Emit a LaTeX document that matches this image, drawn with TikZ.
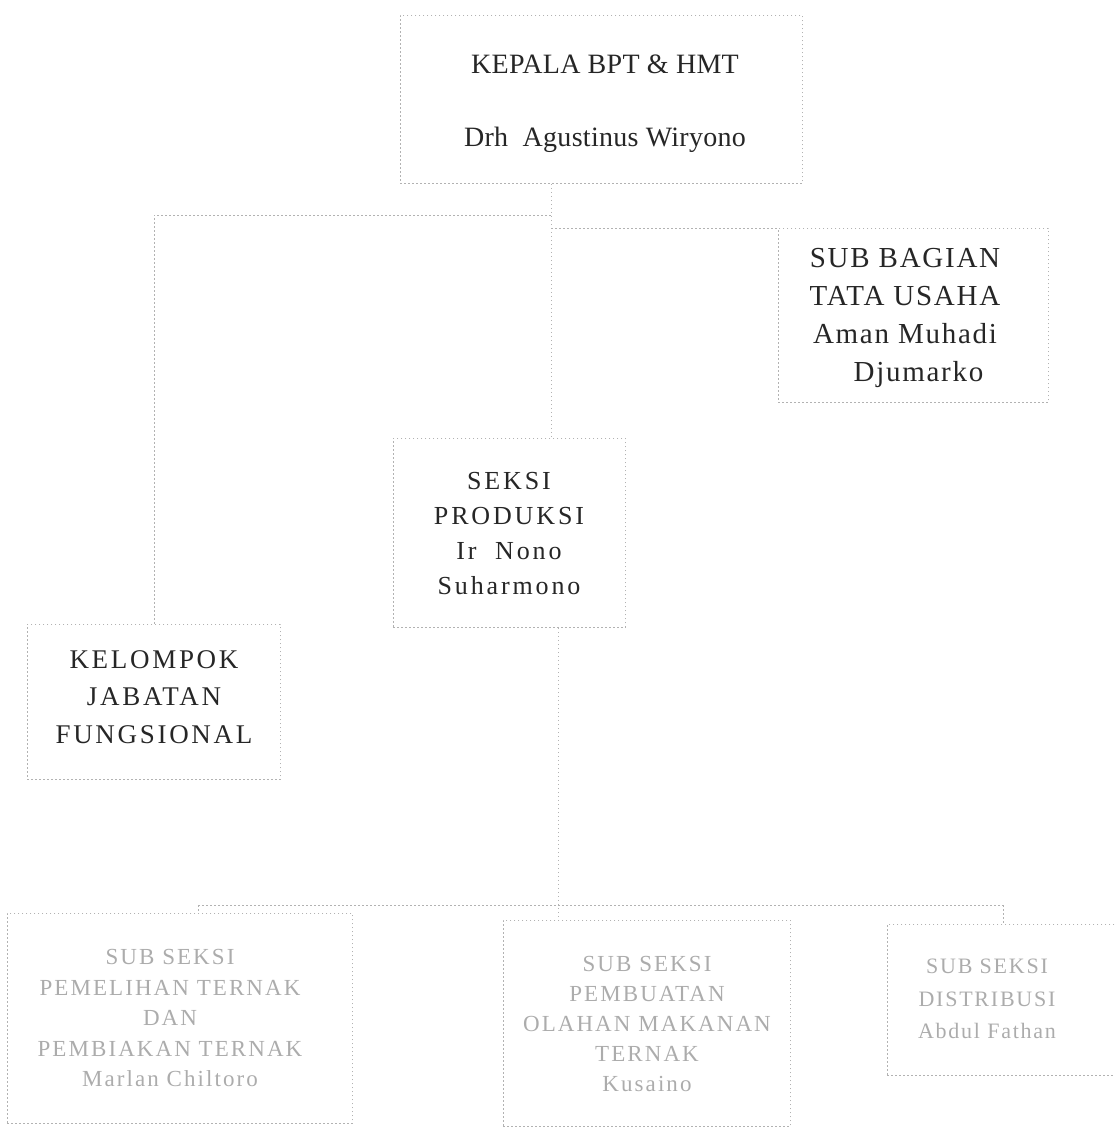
\documentclass[tikz,border=0pt]{standalone}
\usepackage{fontspec}
\setmainfont{Liberation Serif}
\begin{document}
\begin{tikzpicture}[x=1pt,y=-1pt,
  box/.style={draw=gray!60, dash pattern=on 1.6pt off 2.4pt, line width=0.8pt, anchor=north west, inner sep=0pt},
  conn/.style={draw=gray!60, dash pattern=on 1.6pt off 2.4pt, line width=0.8pt},
  dark/.style={text=black!85, align=center, inner sep=0pt},
  pale/.style={text=gray!65, align=center, inner sep=0pt}]
\useasboundingbox (0,0) rectangle (1115,1128);
% boxes
\node[box, minimum width=402pt, minimum height=168pt] (kepala) at (400,15) {};
\node[box, minimum width=270pt, minimum height=174pt] (subbag) at (778,228) {};
\node[box, minimum width=232pt, minimum height=189pt] (seksi) at (393,438) {};
\node[box, minimum width=253pt, minimum height=155pt] (kelompok) at (27,624) {};
\node[box, minimum width=345pt, minimum height=210pt] (b1) at (7,913) {};
\node[box, minimum width=287pt, minimum height=206pt] (b2) at (503,920) {};
\node[box, minimum width=228pt, minimum height=151pt] (b3) at (887,924) {};
% texts
\node[dark, font=\fontsize{28}{73}\selectfont\addfontfeatures{LetterSpace=1}] (kepalaT) at (605,104) {KEPALA BPT \& HMT\\Drh\ \ Agustinus Wiryono};
\node[dark, font=\fontsize{29}{38}\selectfont\addfontfeatures{LetterSpace=6}] (subbagT) at (905,318) {SUB BAGIAN\\TATA USAHA\\Aman Muhadi\\\ \ \ Djumarko};
\node[dark, font=\fontsize{26}{35}\selectfont\addfontfeatures{LetterSpace=11}] (seksiT) at (509,534) {SEKSI\\PRODUKSI\\Ir\ \ Nono\\Suharmono};
\node[dark, font=\fontsize{27}{37.5}\selectfont\addfontfeatures{LetterSpace=10}] (kelompokT) at (154,697) {KELOMPOK\\JABATAN\\FUNGSIONAL};
\node[pale, font=\fontsize{23}{30.5}\selectfont\addfontfeatures{LetterSpace=9}] (b1T) at (170,1018) {SUB SEKSI\\PEMELIHAN TERNAK\\DAN\\PEMBIAKAN TERNAK\\Marlan Chiltoro};
\node[pale, font=\fontsize{23}{30}\selectfont\addfontfeatures{LetterSpace=9}] (b2T) at (647,1024) {SUB SEKSI\\PEMBUATAN\\OLAHAN MAKANAN\\TERNAK\\Kusaino};
\node[pale, font=\fontsize{22}{32.5}\selectfont\addfontfeatures{LetterSpace=8}] (b3T) at (987,999) {SUB SEKSI\\DISTRIBUSI\\Abdul Fathan};
% junctions
\coordinate (jA) at (551,215);
\coordinate (jB) at (551,228);
\coordinate (jC) at (558,905);
\coordinate (jD) at (198,905);
\coordinate (jE) at (1003,905);
% connectors
\draw[conn] (kepala.south -| jA) -- (seksi.north -| jA);
\draw[conn] (jA) -| (kelompok.north);
\draw[conn] (jB) -- (subbag.north west);
\draw[conn] (seksi.south -| jC) -- (b2.north -| jC);
\draw[conn] (jD) -- (jE);
\draw[conn] (jD) -- (b1.north -| jD);
\draw[conn] (jE) -- (b3.north -| jE);
\end{tikzpicture}
\end{document}
